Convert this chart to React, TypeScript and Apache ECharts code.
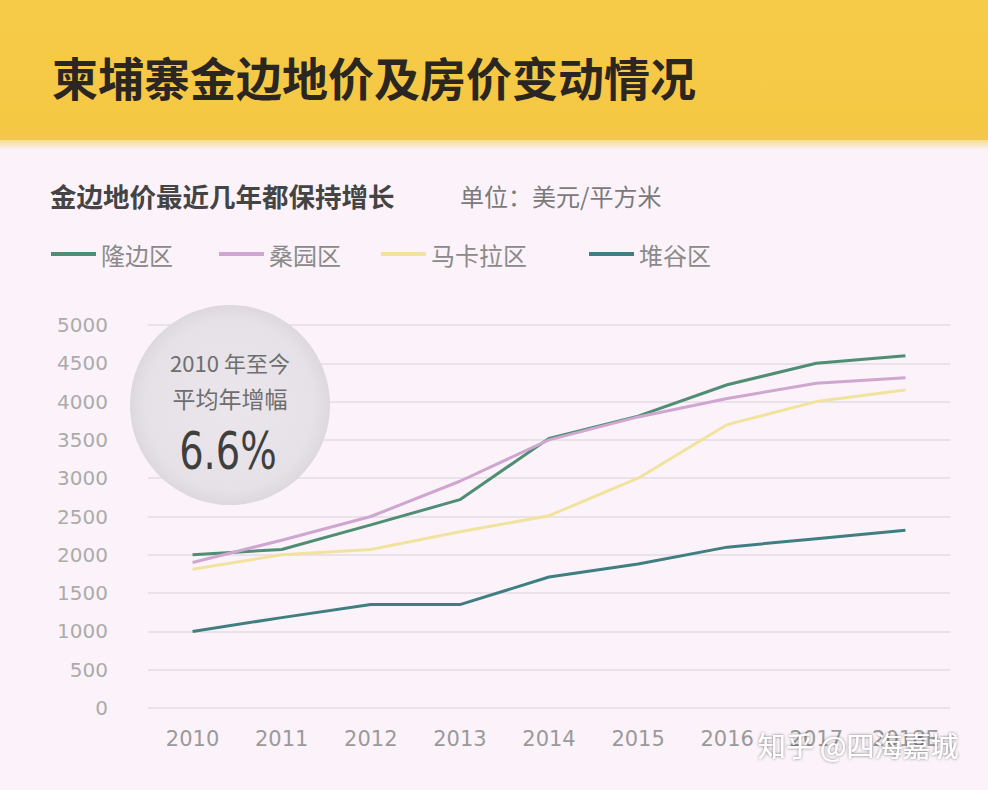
import React, { useEffect, useRef } from "react";
import * as echarts from "echarts";

const years = ["2010", "2011", "2012", "2013", "2014", "2015", "2016", "2017", "2018E"];
const yTicks = [0, 500, 1000, 1500, 2000, 2500, 3000, 3500, 4000, 4500, 5000];

const seriesNames = ["隆边区", "桑园区", "马卡拉区", "堆谷区"];
const longbian = [2000, 2070, 2390, 2720, 3520, 3810, 4220, 4500, 4600];
const sangyuan = [1900, 2190, 2500, 2960, 3500, 3800, 4040, 4240, 4310];
const makala = [1810, 2000, 2070, 2300, 2510, 3000, 3700, 4000, 4150];
const duigu = [1000, 1180, 1350, 1350, 1710, 1880, 2100, 2210, 2320];

const colors = ["#4f8d74", "#cfa6cf", "#f1e39e", "#3f7f82"];

const titleText = "柬埔寨金边地价及房价变动情况";
const subtitleText = "金边地价最近几年都保持增长";
const unitText = "单位：美元/平方米";
const circleLine1 = "2010 年至今";
const circleLine2 = "平均年增幅";
const circleValue = "6.6%";
const watermark = "知乎 @四海嘉城";

const CJK = "'Noto Sans CJK SC', 'Noto Sans', sans-serif";

export default function App() {
  const ref = useRef<HTMLDivElement>(null);
  useEffect(() => {
    if (!ref.current) return;
    const chart = echarts.init(ref.current, null, { renderer: "svg" });
    const data = [longbian, sangyuan, makala, duigu];
    const legendLefts = [46, 214, 376, 584];
    chart.setOption({
      animation: false,
      backgroundColor: "#fbf3f9",
      legend: seriesNames.map((n, i) => ({
        data: [n],
        left: legendLefts[i],
        top: 237,
        itemWidth: 45,
        itemHeight: 4,
        itemGap: 10,
        icon: "rect",
        textStyle: { fontSize: 24, color: "#8a8a8a", fontFamily: CJK },
      })),
      grid: { left: 148, right: 38, top: 325, bottom: 82 },
      xAxis: {
        type: "category",
        data: years,
        boundaryGap: true,
        axisLine: { show: false },
        axisTick: { show: false },
        axisLabel: { fontSize: 21, color: "#9a9a9a", margin: 20, fontFamily: "'DejaVu Sans', sans-serif" },
      },
      yAxis: {
        type: "value",
        min: 0,
        max: 5000,
        interval: 500,
        axisLine: { show: false },
        axisTick: { show: false },
        axisLabel: {
          fontSize: 20,
          color: "#ababab",
          margin: 40,
          fontFamily: "'DejaVu Sans', sans-serif",
          formatter: (v: number) => (yTicks.includes(v) ? String(v) : ""),
        },
        splitLine: { lineStyle: { color: "#e9e2e9", width: 2 } },
      },
      series: seriesNames.map((n, i) => ({
        name: n,
        type: "line",
        data: data[i],
        symbol: "none",
        z: 5,
        lineStyle: { color: colors[i], width: 3 },
        itemStyle: { color: colors[i] },
      })),
      graphic: [
        {
          type: "rect",
          left: 0,
          top: 0,
          z: 0,
          shape: { width: 988, height: 140 },
          style: {
            fill: new echarts.graphic.LinearGradient(0, 0, 0, 1, [
              { offset: 0, color: "#f6cb48" },
              { offset: 0.9, color: "#f5c844" },
              { offset: 1, color: "#f3c651" },
            ]),
          },
        },
        {
          type: "rect",
          left: 0,
          top: 140,
          z: 0,
          shape: { width: 988, height: 10 },
          style: {
            fill: new echarts.graphic.LinearGradient(0, 0, 0, 1, [
              { offset: 0, color: "#f6dd90" },
              { offset: 1, color: "#fbf3f9" },
            ]),
          },
        },
        {
          type: "text",
          left: 52,
          top: 53,
          z: 3,
          style: { text: titleText, fill: "#2b2622", font: `bold 46px ${CJK}` },
        },
        {
          type: "text",
          left: 50,
          top: 182,
          z: 3,
          style: { text: subtitleText, font: `bold 26.5px ${CJK}`, fill: "#444444" },
        },
        {
          type: "text",
          left: 460,
          top: 183,
          z: 3,
          style: { text: unitText, font: `24px ${CJK}`, fill: "#7a7a7a" },
        },
        {
          type: "circle",
          z: 1,
          shape: { cx: 230, cy: 405, r: 100 },
          style: {
            fill: new echarts.graphic.RadialGradient(0.5, 0.5, 0.5, [
              { offset: 0, color: "#ebe6ec" },
              { offset: 0.85, color: "#e6e1e7" },
              { offset: 1, color: "#ddd8de" },
            ]),
          },
        },
        {
          type: "text",
          x: 230,
          y: 362,
          z: 3,
          style: { text: circleLine1, font: `22px ${CJK}`, fill: "#6e6e6e", align: "center", verticalAlign: "middle" },
        },
        {
          type: "text",
          x: 230,
          y: 398,
          z: 3,
          style: { text: circleLine2, font: `23px ${CJK}`, fill: "#6e6e6e", align: "center", verticalAlign: "middle" },
        },
        {
          type: "text",
          x: 228,
          y: 451,
          z: 3,
          scaleX: 0.74,
          style: {
            text: circleValue,
            font: `52px 'DejaVu Sans', sans-serif`,
            fill: "#3f3f3f",
            align: "center",
            verticalAlign: "middle",
          },
        },
        {
          type: "text",
          x: 858,
          y: 745,
          z: 10,
          style: {
            text: watermark,
            font: `28px ${CJK}`,
            fill: "#ffffff",
            align: "center",
            verticalAlign: "middle",
            textShadowColor: "rgba(0,0,0,0.55)",
            textShadowBlur: 3,
          },
        },
      ],
    });
    return () => chart.dispose();
  }, []);
  return (
    <div
      ref={ref}
      style={{ position: "fixed", left: 0, top: 0, width: 988, height: 790 }}
    />
  );
}
